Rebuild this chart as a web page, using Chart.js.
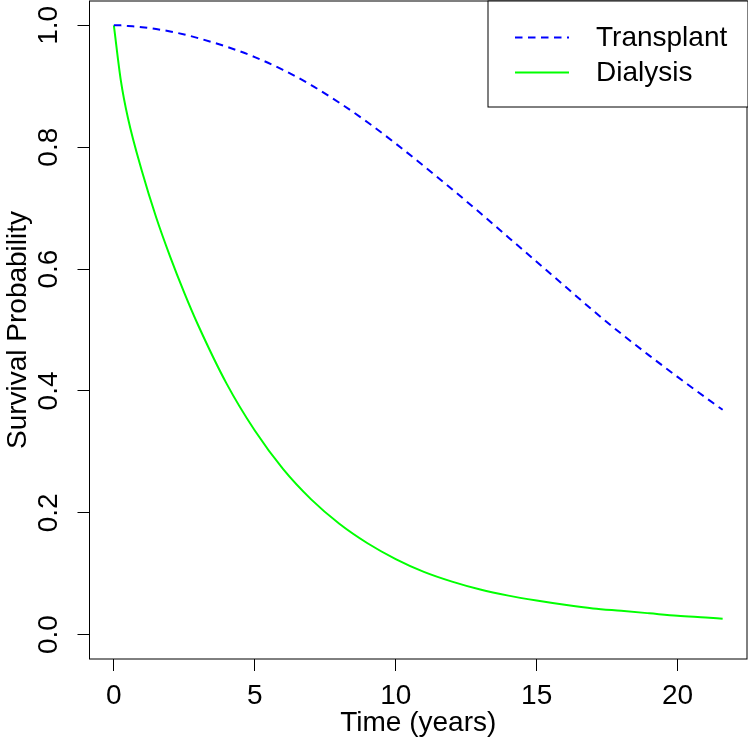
<!DOCTYPE html>
<html>
<head>
<meta charset="utf-8">
<script src="https://cdn.jsdelivr.net/npm/chart.js@4.4.1/dist/chart.umd.min.js"></script>
<style>
  html, body { margin: 0; padding: 0; background: #fff; }
  canvas { display: block; }
</style>
</head>
<body>
<canvas id="surv-chart" width="748" height="742"></canvas>
<script>
// survival curves
const years = [0, 0.25, 0.5, 1, 1.5, 2, 2.5, 3, 4, 5, 6, 7, 8, 9, 10, 11, 12, 13, 14, 15, 16, 17, 18, 19, 20, 21, 21.6];
const transplant = [1.000, 1.000, 0.999, 0.997, 0.994, 0.990, 0.985, 0.979, 0.965, 0.948, 0.927, 0.902, 0.873, 0.841, 0.806, 0.769, 0.731, 0.692, 0.652, 0.612, 0.572, 0.532, 0.494, 0.458, 0.423, 0.389, 0.369];
const dialysis = [1.000, 0.909, 0.848, 0.760, 0.685, 0.620, 0.561, 0.507, 0.412, 0.335, 0.272, 0.222, 0.182, 0.150, 0.124, 0.103, 0.087, 0.074, 0.064, 0.056, 0.049, 0.043, 0.039, 0.035, 0.031, 0.028, 0.026];
const seriesNames = ['Transplant', 'Dialysis'];
const xTicks = [0, 5, 10, 15, 20];
const yTicks = [0.0, 0.2, 0.4, 0.6, 0.8, 1.0];

const FONT = 'Liberation Sans, Arial, Helvetica, sans-serif';

function toPoints(vals) {
    return years.map((t, i) => ({ x: t, y: vals[i] }));
}

// box around the plot region (R style)
const boxPlugin = {
    id: 'plotBox',
    afterDraw(chart) {
        const { ctx, chartArea: a } = chart;
        ctx.save();
        ctx.strokeStyle = '#000';
        ctx.lineWidth = 1;
        ctx.strokeRect(a.left, a.top, a.right - a.left, a.bottom - a.top);
        ctx.restore();
    }
};

// legend in top right corner with a frame
const legendPlugin = {
    id: 'boxLegend',
    afterDraw(chart) {
        const { ctx, chartArea: a } = chart;
        const w = 259, h = 106;
        const left = a.right - w, top = a.top;
        ctx.save();
        ctx.fillStyle = '#fff';
        ctx.fillRect(left, top, w, h);
        ctx.strokeStyle = '#000';
        ctx.lineWidth = 1;
        ctx.strokeRect(left, top, w + 2, h);
        ctx.font = '28px ' + FONT;
        ctx.textBaseline = 'middle';
        chart.data.datasets.forEach((ds, i) => {
            const y = top + 36.5 + i * 35;
            ctx.strokeStyle = ds.borderColor;
            ctx.lineWidth = ds.borderWidth;
            ctx.setLineDash(ds.borderDash || []);
            ctx.beginPath();
            ctx.moveTo(left + 27, y);
            ctx.lineTo(left + 81, y);
            ctx.stroke();
            ctx.setLineDash([]);
            ctx.fillStyle = '#000';
            ctx.fillText(ds.label, left + 108, y + 1);
        });
        ctx.restore();
    }
};

const ctx = document.getElementById('surv-chart').getContext('2d');
new Chart(ctx, {
    type: 'line',
    data: {
        datasets: [{
            label: seriesNames[0],
            data: toPoints(transplant),
            borderColor: '#0000ff',
            borderWidth: 2,
            borderDash: [7.5, 5.5],
            fill: false,
            pointRadius: 0,
            cubicInterpolationMode: 'monotone',
        }, {
            label: seriesNames[1],
            data: toPoints(dialysis),
            borderColor: '#00ff00',
            borderWidth: 2,
            fill: false,
            pointRadius: 0,
            cubicInterpolationMode: 'monotone',
        }]
    },
    options: {
        responsive: false,
        animation: false,
        devicePixelRatio: 1,
        layout: { padding: { top: 1, right: 1, left: 0, bottom: 0 } },
        plugins: { legend: { display: false }, tooltip: { enabled: false } },
        scales: {
            x: {
                type: 'linear',
                min: -0.864,
                max: 22.464,
                afterFit: (s) => { s.height = 83; s.paddingLeft = 0; s.paddingRight = 0; },
                afterBuildTicks: (s) => { s.ticks = xTicks.map(v => ({ value: v })); },
                grid: { drawOnChartArea: false, drawTicks: true, tickLength: 12, color: '#000', tickColor: '#000' },
                border: { display: false },
                ticks: { font: { size: 28, family: FONT }, color: '#000', padding: 8, maxRotation: 0 },
                title: { display: true, text: 'Time (years)', font: { size: 28, family: FONT }, color: '#000', padding: { top: 0, bottom: 2 } }
            },
            y: {
                type: 'linear',
                min: -0.04,
                max: 1.04,
                afterFit: (s) => { s.width = 89.5; s.paddingTop = 0; s.paddingBottom = 0; },
                afterBuildTicks: (s) => { s.ticks = yTicks.map(v => ({ value: v })); },
                grid: { drawOnChartArea: false, drawTicks: true, tickLength: 12, color: '#000', tickColor: '#000' },
                border: { display: false },
                ticks: {
                    font: { size: 28, family: FONT }, color: '#000', padding: 9,
                    minRotation: 90, maxRotation: 90, crossAlign: 'center',
                    callback: (v) => v.toFixed(1)
                },
                title: { display: true, text: 'Survival Probability', font: { size: 28, family: FONT }, color: '#000', padding: { top: 1, bottom: 0 } }
            }
        }
    },
    plugins: [boxPlugin, legendPlugin]
});
</script>
</body>
</html>
